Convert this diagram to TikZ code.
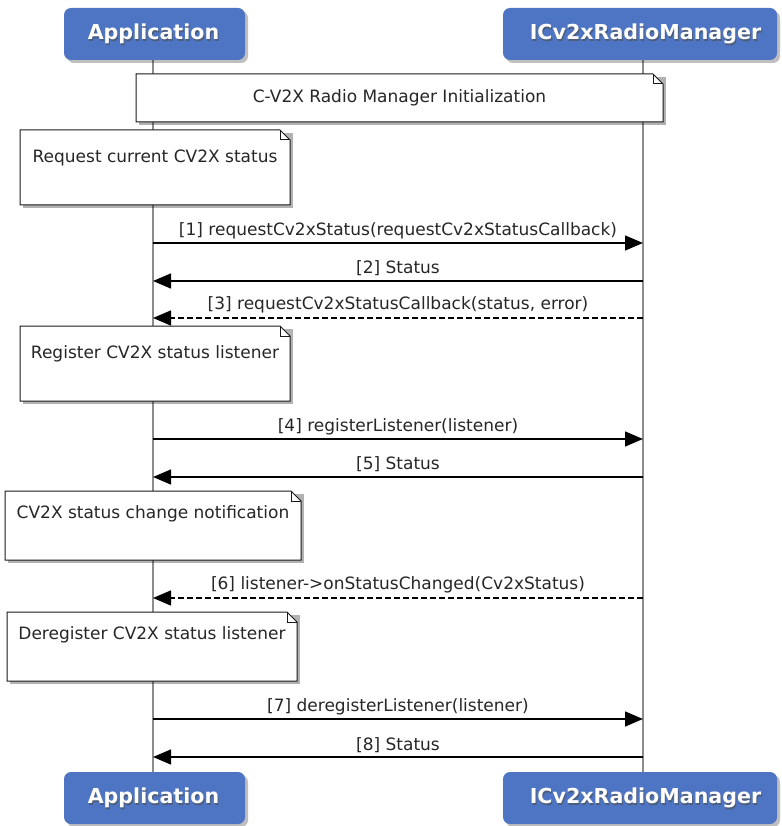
\documentclass[tikz,border=0pt]{standalone}
\usepackage{fontspec}
\setmainfont{DejaVu Sans}
\usetikzlibrary{arrows.meta,calc}
\definecolor{actorblue}{HTML}{4E75C3}
\definecolor{lifegray}{HTML}{8C8C8C}
\tikzset{
  actorbox/.style={rounded corners=7pt, fill=actorblue, draw=none, inner sep=0pt},
  actorshadow/.style={rounded corners=7pt, fill=black, opacity=0.25, draw=none},
  actortxt/.style={text=white, font=\fontsize{20.6}{24}\selectfont\bfseries, inner sep=0pt},
  actortxtsh/.style={text=black!70, opacity=0.6, font=\fontsize{20.6}{24}\selectfont\bfseries, inner sep=0pt},
  lifeline/.style={draw=lifegray, line width=1.4pt},
  notestyle/.style={draw=black!90, fill=white, line width=1pt, line join=miter},
  noteshadow/.style={fill=black, opacity=0.3, draw=none},
  notetext/.style={font=\fontsize{17}{20}\selectfont, inner sep=0pt, text=black!85},
  msg/.style={line width=1.5pt, -{Triangle[length=18pt,width=15pt]}},
  rmsg/.style={msg, dash pattern=on 6pt off 3pt},
  msglabel/.style={font=\fontsize{17}{20}\selectfont, inner sep=0pt, text=black!85},
}
\newcommand\notebox[7]{%
  \fill[noteshadow] (#2+3,#3+3) rectangle (#4+3,#5+3);
  \draw[notestyle] (#2,#3) -- (#4-10,#3) -- (#4,#3+10) -- (#4,#5) -- (#2,#5) -- cycle;
  \draw[notestyle,fill=none] (#4-10,#3) -- (#4-10,#3+10) -- (#4,#3+10);
  \node[notetext] (#1) at ({(#2+#4)/2},#7) {#6};
}
\begin{document}
\begin{tikzpicture}[x=1pt,y=-1pt]
\useasboundingbox (0,0) rectangle (781,826);
% lifelines
\coordinate (la-top) at (153,60);
\coordinate (la-bot) at (153,772);
\coordinate (lb-top) at (643,60);
\coordinate (lb-bot) at (643,772);
\draw[lifeline] (la-top) -- (la-bot);
\draw[lifeline] (lb-top) -- (lb-bot);
% actors top
\fill[actorshadow] (67,11) rectangle (248,63);
\fill[actorshadow] (506,11) rectangle (780,63);
\fill[actorbox] (64,8) rectangle (245,60);
\fill[actorbox] (503,8) rectangle (777,60);
\node[actortxtsh] at (154.5,35.5) {Application};
\node[actortxt] (appT) at (153.5,34) {Application};
\node[actortxtsh] at (646.5,35.5) {ICv2xRadioManager};
\node[actortxt] (mgrT) at (645.5,34) {ICv2xRadioManager};
% actors bottom
\fill[actorshadow] (67,775) rectangle (248,827);
\fill[actorshadow] (506,775) rectangle (780,827);
\fill[actorbox] (64,772) rectangle (245,824);
\fill[actorbox] (503,772) rectangle (777,824);
\node[actortxtsh] at (154.5,799.5) {Application};
\node[actortxt] (appB) at (153.5,798) {Application};
\node[actortxtsh] at (646.5,799.5) {ICv2xRadioManager};
\node[actortxt] (mgrB) at (645.5,798) {ICv2xRadioManager};
% notes
\notebox{n0}{136}{74}{663}{122}{C-V2X Radio Manager Initialization}{98}
\notebox{n1}{20}{130}{290}{205}{Request current CV2X status}{158}
% messages 1-3
\coordinate (a1) at (153,243); \coordinate (b1) at (643,243);
\draw[msg] (a1) -- (b1) node[msglabel, midway, yshift=12pt] (m1) {[1] requestCv2xStatus(requestCv2xStatusCallback)};
\coordinate (a2) at (153,281); \coordinate (b2) at (643,281);
\draw[msg] (b2) -- (a2) node[msglabel, midway, yshift=13pt] (m2) {[2] Status};
\coordinate (a3) at (153,318); \coordinate (b3) at (643,318);
\draw[rmsg] (b3) -- (a3) node[msglabel, midway, yshift=13pt] (m3) {[3] requestCv2xStatusCallback(status, error)};
\notebox{n2}{20}{326}{290}{401}{Register CV2X status listener}{354}
\coordinate (a4) at (153,439); \coordinate (b4) at (643,439);
\draw[msg] (a4) -- (b4) node[msglabel, midway, yshift=12pt] (m4) {[4] registerListener(listener)};
\coordinate (a5) at (153,477); \coordinate (b5) at (643,477);
\draw[msg] (b5) -- (a5) node[msglabel, midway, yshift=13pt] (m5) {[5] Status};
\notebox{n3}{5}{491}{301}{560}{CV2X status change notification}{514}
\coordinate (a6) at (153,598); \coordinate (b6) at (643,598);
\draw[rmsg] (b6) -- (a6) node[msglabel, midway, yshift=13pt] (m6) {[6] listener->onStatusChanged(Cv2xStatus)};
\notebox{n4}{7}{612}{297}{681}{Deregister CV2X status listener}{635}
\coordinate (a7) at (153,719); \coordinate (b7) at (643,719);
\draw[msg] (a7) -- (b7) node[msglabel, midway, yshift=12pt] (m7) {[7] deregisterListener(listener)};
\coordinate (a8) at (153,757); \coordinate (b8) at (643,757);
\draw[msg] (b8) -- (a8) node[msglabel, midway, yshift=12pt] (m8) {[8] Status};
\end{tikzpicture}
\end{document}
